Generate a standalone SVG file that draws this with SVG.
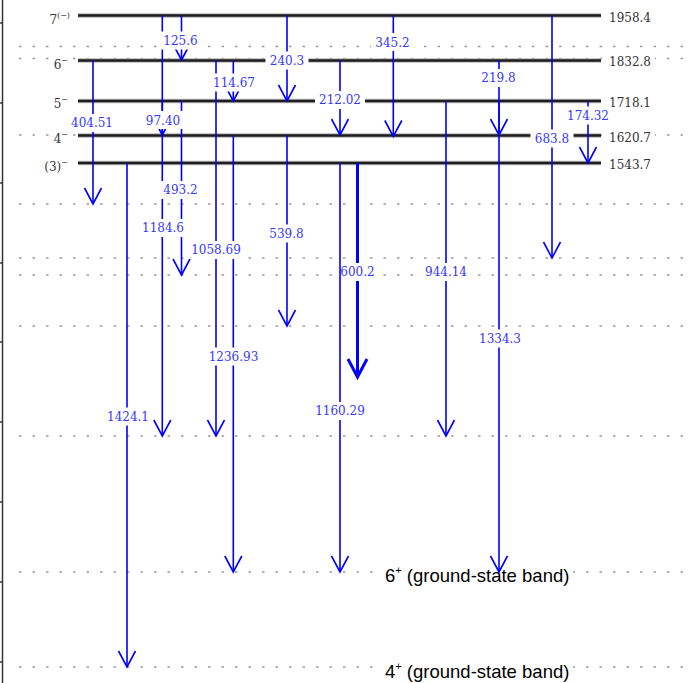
<svg xmlns="http://www.w3.org/2000/svg" width="693" height="683" viewBox="0 0 693 683">
<style>
.dot{stroke:#9a9a9a;stroke-width:1.3;stroke-dasharray:2.5 11;fill:none}
.lvh{stroke:#b5b5b5;stroke-width:4.6}
.lv{stroke:#1e1e1e;stroke-width:2.6}
.tr{stroke:#0000ff;stroke-width:1.6;fill:none;marker-end:url(#ah)}
.trb{stroke:#0000ff;stroke-width:3;fill:none;marker-end:url(#ahb)}
.bx{fill:#ffffff}
.gl{font-family:"DejaVu Serif",serif;font-size:12px;fill:#3636ff;text-anchor:middle}
.ll{font-family:"DejaVu Serif",serif;font-size:12px;fill:#333333}
.bt{font-family:"Liberation Sans",Arial,sans-serif;font-size:18.5px;fill:#000000}
.ax{stroke:#333333;stroke-width:1.5}
</style>
<defs>
<marker id="ah" markerUnits="userSpaceOnUse" orient="auto" refX="0" refY="0" markerWidth="20" markerHeight="20" overflow="visible">
<path d="M-16,-8.5 L0,0 L-16,8.5" fill="none" stroke="#0000ff" stroke-width="1.6"/>
</marker>
<marker id="ahb" markerUnits="userSpaceOnUse" orient="auto" refX="0" refY="0" markerWidth="24" markerHeight="24" overflow="visible">
<path d="M-18,-9.5 L0,0 L-18,9.5" fill="none" stroke="#0000ff" stroke-width="3"/>
</marker>
</defs>
<rect width="693" height="683" fill="#ffffff"/>
<g id="axis">
<line class="ax" x1="2.5" y1="0" x2="2.5" y2="683"/>
<path class="ax" stroke-width="1" d="M0,23H3M0,103H3M0,183H3M0,263H3M0,342H3M0,422H3M0,502H3M0,582H3M0,662H3"/>
</g>
<g id="dotted-levels">
<line class="dot" x1="19" y1="46.5" x2="690" y2="46.5"/>
<line class="dot" x1="19" y1="58.5" x2="690" y2="58.5"/>
<line class="dot" x1="19" y1="135" x2="690" y2="135"/>
<line class="dot" x1="19" y1="204" x2="690" y2="204"/>
<line class="dot" x1="19" y1="258" x2="690" y2="258"/>
<line class="dot" x1="19" y1="275" x2="690" y2="275"/>
<line class="dot" x1="19" y1="326" x2="690" y2="326"/>
<line class="dot" x1="19" y1="436" x2="690" y2="436"/>
<line class="dot" x1="19" y1="572" x2="690" y2="572"/>
<line class="dot" x1="19" y1="667" x2="690" y2="667"/>
</g>
<g id="level-7">
<line class="lvh" x1="78" y1="15.5" x2="601" y2="15.5"/><line class="lv" x1="78" y1="15.5" x2="601" y2="15.5"/>
<rect class="bx" x="45" y="8" width="26" height="18"/>
<text class="ll" x="70" y="23.5" text-anchor="end">7<tspan font-size="8" dy="-6">(−)</tspan></text>
<rect class="bx" x="605" y="8" width="50" height="16"/>
<text class="ll" x="609" y="22">1958.4</text>
</g>
<g id="level-6">
<line class="lvh" x1="78" y1="60.5" x2="601" y2="60.5"/><line class="lv" x1="78" y1="60.5" x2="601" y2="60.5"/>
<rect class="bx" x="52" y="53" width="19" height="18"/>
<text class="ll" x="68" y="68.5" text-anchor="end">6<tspan font-size="8" dy="-6">−</tspan></text>
<rect class="bx" x="605" y="53" width="50" height="16"/>
<text class="ll" x="609" y="65.5">1832.8</text>
</g>
<g id="level-5">
<line class="lvh" x1="78" y1="101" x2="601" y2="101"/><line class="lv" x1="78" y1="101" x2="601" y2="101"/>
<text class="ll" x="68" y="108" text-anchor="end">5<tspan font-size="8" dy="-6">−</tspan></text>
<text class="ll" x="609" y="107">1718.1</text>
</g>
<g id="level-4">
<line class="lvh" x1="78" y1="135.5" x2="601" y2="135.5"/><line class="lv" x1="78" y1="135.5" x2="601" y2="135.5"/>
<rect class="bx" x="52" y="128" width="19" height="18"/>
<text class="ll" x="68" y="143" text-anchor="end">4<tspan font-size="8" dy="-6">−</tspan></text>
<rect class="bx" x="605" y="128" width="50" height="16"/>
<text class="ll" x="609" y="142">1620.7</text>
</g>
<g id="level-3">
<line class="lvh" x1="78" y1="163" x2="601" y2="163"/><line class="lv" x1="78" y1="163" x2="601" y2="163"/>
<text class="ll" x="68" y="171" text-anchor="end">(3)<tspan font-size="8" dy="-6">−</tspan></text>
<text class="ll" x="609" y="168.5">1543.7</text>
</g>
<g id="band-labels">
<rect class="bx" x="380" y="565" width="193" height="22"/>
<text class="bt" x="385" y="582">6<tspan font-size="11" dy="-8">+</tspan><tspan dy="8"> (ground-state band)</tspan></text>
<rect class="bx" x="380" y="661" width="193" height="22"/>
<text class="bt" x="385" y="678">4<tspan font-size="11" dy="-8">+</tspan><tspan dy="8"> (ground-state band)</tspan></text>
</g>
<g id="connectors">
<line class="tr" x1="93" y1="60.5" x2="93" y2="204"/>
<line class="tr" x1="127" y1="163" x2="127" y2="667"/>
<line class="tr" x1="162.3" y1="15.5" x2="162.3" y2="436"/>
<line class="tr" x1="162.3" y1="101" x2="162.3" y2="135"/>
<line class="tr" x1="181.5" y1="15.5" x2="181.5" y2="60"/>
<line class="tr" x1="181.5" y1="101" x2="181.5" y2="275"/>
<line class="tr" x1="216" y1="60.5" x2="216" y2="436"/>
<line class="tr" x1="233.3" y1="60.5" x2="233.3" y2="101"/>
<line class="tr" x1="233.3" y1="135.5" x2="233.3" y2="572"/>
<line class="tr" x1="287" y1="15.5" x2="287" y2="101"/>
<line class="tr" x1="287" y1="135.5" x2="287" y2="326"/>
<line class="tr" x1="340" y1="60.5" x2="340" y2="135"/>
<line class="tr" x1="340" y1="163" x2="340" y2="572"/>
<line class="trb" x1="357.5" y1="163" x2="357.5" y2="377"/>
<line class="tr" x1="393.3" y1="15.5" x2="393.3" y2="136.5"/>
<line class="tr" x1="446" y1="101" x2="446" y2="436"/>
<line class="tr" x1="499" y1="60.5" x2="499" y2="135"/>
<line class="tr" x1="499" y1="101" x2="499" y2="572"/>
<line class="tr" x1="552" y1="15.5" x2="552" y2="258"/>
<line class="tr" x1="588" y1="101" x2="588" y2="163"/>
</g>
<g id="gamma-labels">
<rect class="bx" x="159" y="31.5" width="43" height="18"/><text class="gl" x="180.5" y="45.4">125.6</text>
<rect class="bx" x="265.5" y="51.5" width="43" height="18"/><text class="gl" x="287" y="64.9">240.3</text>
<rect class="bx" x="371" y="33" width="43" height="18"/><text class="gl" x="392.5" y="46.9">345.2</text>
<rect class="bx" x="209.5" y="73.5" width="49" height="18"/><text class="gl" x="234" y="87.4">114.67</text>
<rect class="bx" x="315" y="91" width="50" height="18"/><text class="gl" x="340" y="104.4">212.02</text>
<rect class="bx" x="477" y="69" width="43" height="18"/><text class="gl" x="498.5" y="82.4">219.8</text>
<rect class="bx" x="563.5" y="106.5" width="49" height="18"/><text class="gl" x="588" y="119.9">174.32</text>
<rect class="bx" x="530.5" y="129.5" width="43" height="18"/><text class="gl" x="552" y="142.9">683.8</text>
<rect class="bx" x="67.5" y="114" width="49" height="18"/><text class="gl" x="92" y="127.4">404.51</text>
<rect class="bx" x="141.5" y="111" width="43" height="18"/><text class="gl" x="163" y="125.4">97.40</text>
<rect class="bx" x="159" y="181" width="43" height="18"/><text class="gl" x="180.5" y="194.4">493.2</text>
<rect class="bx" x="138.5" y="219" width="49" height="18"/><text class="gl" x="163" y="232.4">1184.6</text>
<rect class="bx" x="187.5" y="241" width="57" height="18"/><text class="gl" x="216" y="254.4">1058.69</text>
<rect class="bx" x="265" y="224.5" width="43" height="18"/><text class="gl" x="286.5" y="237.9">539.8</text>
<rect class="bx" x="205" y="347.5" width="57" height="18"/><text class="gl" x="233.5" y="360.9">1236.93</text>
<rect class="bx" x="103.5" y="407.5" width="49" height="18"/><text class="gl" x="128" y="420.9">1424.1</text>
<rect class="bx" x="341" y="263" width="38" height="18"/><text class="gl" x="357.5" y="276.4">600.2</text>
<rect class="bx" x="421.5" y="263" width="49" height="18"/><text class="gl" x="446" y="276.4">944.14</text>
<rect class="bx" x="311.5" y="402" width="57" height="18"/><text class="gl" x="340" y="415.4">1160.29</text>
<rect class="bx" x="475.5" y="329.5" width="49" height="18"/><text class="gl" x="500" y="342.9">1334.3</text>
</g>
</svg>
